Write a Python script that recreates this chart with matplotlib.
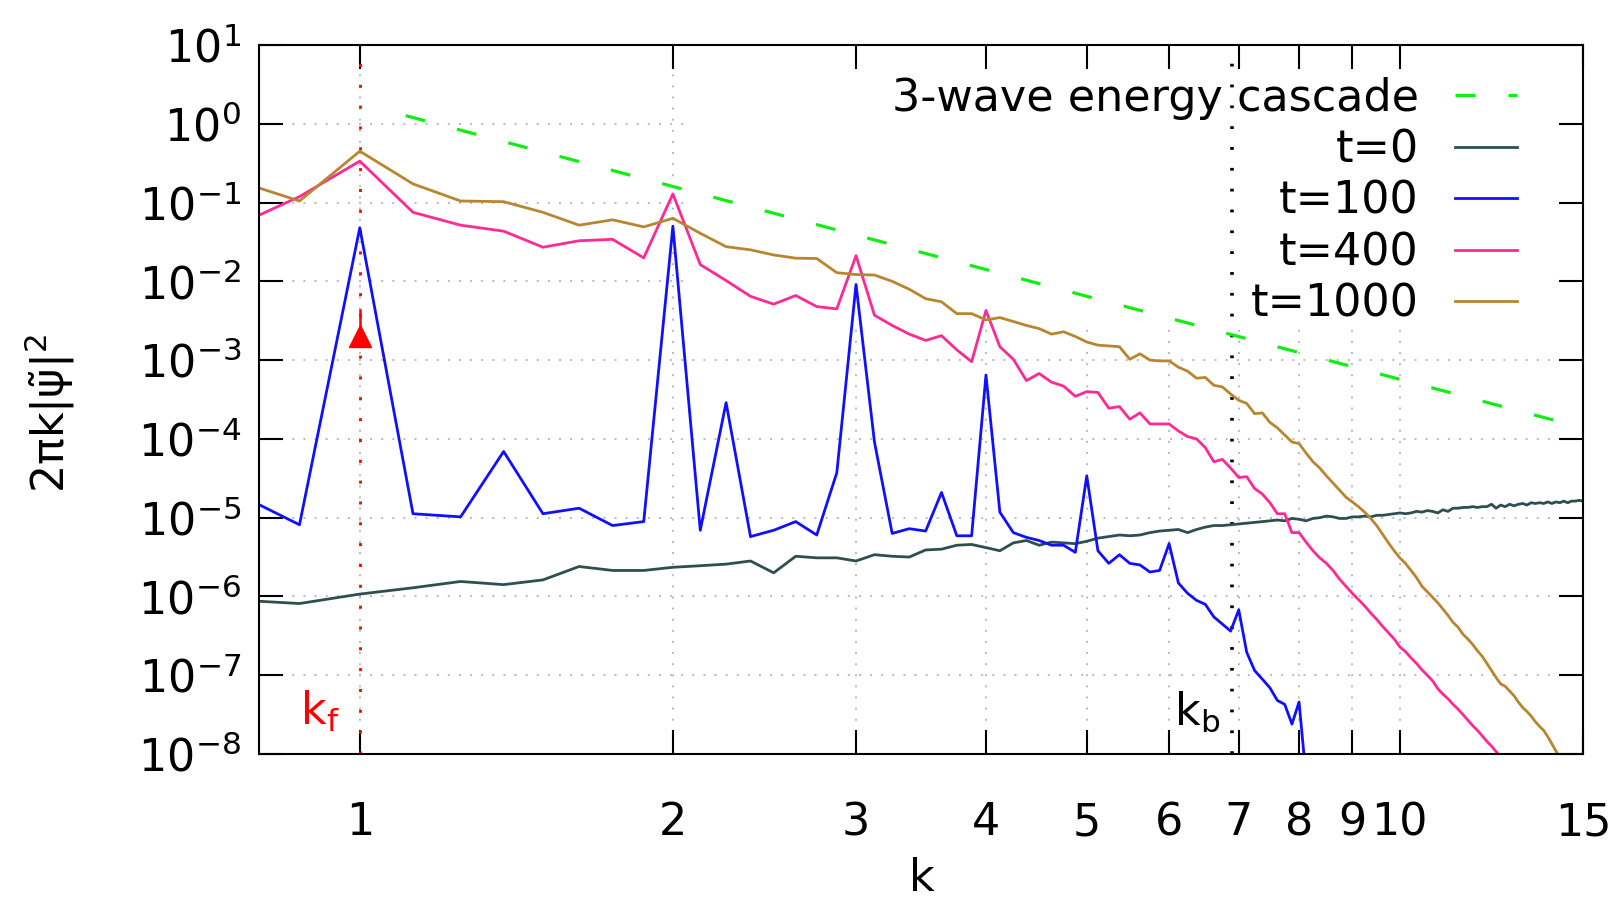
import numpy as np
import matplotlib
matplotlib.use('Agg')
import matplotlib.pyplot as plt
from matplotlib.patches import Rectangle
from matplotlib.ticker import NullLocator, FixedLocator

plt.rcParams['font.family'] = ['DejaVu Sans']
plt.rcParams['mathtext.fontset'] = 'dejavusans'
plt.rcParams['lines.scale_dashes'] = False

# ---------------- data (log10 of 2*pi*k*|psi|^2, sampled every dk) -------------
k_start = 0.75
k_step = 0.125

log_t0 = [
    -6.04, -6.09,
    -5.97, -5.89, -5.81, -5.85, -5.79, -5.62, -5.67, -5.67,
    -5.63, -5.61, -5.59, -5.55, -5.70, -5.49, -5.51, -5.51,
    -5.55, -5.47, -5.49, -5.50, -5.41, -5.40, -5.35, -5.34,
    -5.38, -5.42, -5.32, -5.29, -5.35, -5.31, -5.32, -5.33,
    -5.30, -5.26, -5.24, -5.22, -5.23, -5.22, -5.19, -5.17,
    -5.16, -5.15, -5.19, -5.15, -5.12, -5.10, -5.10, -5.09,
    -5.08, -5.07, -5.06, -5.05, -5.04, -5.03, -5.04, -5.01,
    -5.02, -5.04, -5.01, -5.00, -4.98, -4.99, -5.01, -5.01,
    -4.99, -4.99, -4.98, -4.99, -4.97, -4.97, -4.96, -4.95,
    -4.94, -4.95, -4.94, -4.92, -4.93, -4.91, -4.92, -4.94,
    -4.90, -4.92, -4.88, -4.88, -4.87, -4.87, -4.86, -4.87,
    -4.86, -4.86, -4.83, -4.88, -4.84, -4.86, -4.83, -4.85,
    -4.83, -4.82, -4.84, -4.81, -4.82, -4.81, -4.82, -4.80,
    -4.82, -4.80, -4.81, -4.79, -4.81, -4.79, -4.79, -4.78,
    -4.79,
]

log_t100 = [
    -4.65, -5.09,
    -1.32, -4.95, -4.99, -4.16, -4.95, -4.88, -5.10, -5.05,
    -1.30, -5.16, -3.54, -5.24, -5.16, -5.05, -5.22, -4.43,
    -2.04, -4.04, -5.20, -5.14, -5.17, -4.68, -5.23, -5.23,
    -3.19, -4.93, -5.19, -5.25, -5.29, -5.35, -5.35, -5.44,
    -4.47, -5.42, -5.58, -5.47, -5.58, -5.60, -5.69, -5.67,
    -5.33, -5.83, -5.96, -6.05, -6.10, -6.26, -6.35, -6.44,
    -6.17, -6.71, -6.94, -7.05, -7.16, -7.32, -7.37, -7.62,
    -7.34, -8.30,
]

log_t400 = [
    -1.33, -0.925,
    -0.474, -1.124, -1.287, -1.363, -1.567, -1.485, -1.467, -1.702,
    -0.89, -1.787, -1.99, -2.19, -2.29, -2.18, -2.32, -2.35,
    -1.674, -2.43, -2.56, -2.67, -2.75, -2.69, -2.87, -3.02,
    -2.37, -2.83, -2.99, -3.26, -3.17, -3.28, -3.33, -3.46,
    -3.40, -3.41, -3.61, -3.59, -3.75, -3.67, -3.81, -3.81,
    -3.81, -3.90, -3.97, -4.00, -4.11, -4.29, -4.26, -4.37,
    -4.49, -4.48, -4.63, -4.70, -4.81, -4.95, -4.95, -5.19,
    -5.19, -5.31, -5.42, -5.51, -5.58, -5.67, -5.78, -5.87,
    -5.96, -6.04, -6.12, -6.21, -6.29, -6.38, -6.46, -6.54,
    -6.64, -6.70, -6.78, -6.85, -6.93, -7.00, -7.07, -7.17,
    -7.24, -7.30, -7.37, -7.43, -7.50, -7.57, -7.64, -7.70,
    -7.77, -7.84, -7.90, -7.97, -8.03,
]

log_t1000 = [
    -0.695, -0.98,
    -0.348, -0.763, -0.98, -0.989, -1.124, -1.287, -1.219, -1.309,
    -1.20, -1.39, -1.56, -1.60, -1.665, -1.706, -1.71, -1.89,
    -1.914, -1.92, -2.00, -2.10, -2.22, -2.26, -2.41, -2.41,
    -2.49, -2.46, -2.51, -2.56, -2.60, -2.67, -2.64, -2.70,
    -2.77, -2.81, -2.82, -2.83, -2.99, -2.92, -3.00, -3.01,
    -3.01, -3.09, -3.14, -3.23, -3.22, -3.32, -3.34, -3.43,
    -3.51, -3.55, -3.68, -3.67, -3.79, -3.86, -3.95, -4.04,
    -4.06, -4.18, -4.29, -4.37, -4.47, -4.56, -4.65, -4.74,
    -4.80, -4.86, -4.93, -5.01, -5.10, -5.21, -5.32, -5.42,
    -5.51, -5.58, -5.67, -5.76, -5.87, -5.94, -6.01, -6.08,
    -6.16, -6.24, -6.33, -6.39, -6.48, -6.54, -6.61, -6.69,
    -6.76, -6.85, -6.94, -7.03, -7.11, -7.14, -7.20, -7.26,
    -7.34, -7.41, -7.46, -7.52, -7.59, -7.65, -7.70, -7.78,
    -7.87, -7.96, -8.05,
]

cascade_k = [1.107, 15.0]
cascade_v = [1.27, 1.38e-4]

k_forcing = 1.0
k_break = 6.9
forcing_v = 2.0e-3
forcing_stem = [2.0e-3, 4.3e-3]

x_ticks = [1, 2, 3, 4, 5, 6, 7, 8, 9, 10, 15]
x_ticklabels = ['1', '2', '3', '4', '5', '6', '7', '8', '9', '10', '15']
y_exponents = [1, 0, -1, -2, -3, -4, -5, -6, -7, -8]

series_labels = ['t=0', 't=100', 't=400', 't=1000']
series_colors = ['#2f4f4f', '#1010ff', '#ff2a95', '#b8862e']
cascade_label = '3-wave energy cascade'

# ---------------- figure ----------------
W, H = 1624, 899
fig = plt.figure(figsize=(W / 100, H / 100), dpi=100)
ax_l, ax_r, ax_t, ax_b = 259, 1583, 45, 754
ax = fig.add_axes([ax_l / W, 1 - ax_b / H, (ax_r - ax_l) / W, (ax_b - ax_t) / H])
ax.set_xscale('log')
ax.set_yscale('log')
ax.set_xlim(0.8, 15)
ax.set_ylim(1e-8, 10)

FS = 32

# grid (manual, dotted grey) below a blank key area
grid_kw = dict(color='#b4b4b4', lw=1.3, dashes=(1.4, 6.6), zorder=0.5)
for e in y_exponents[1:-1]:
    ax.axhline(10.0 ** e, **grid_kw)
for xt in x_ticks[:-1]:
    ax.axvline(xt, **grid_kw)
ax.add_patch(Rectangle((0.3255, 0.608), 0.6745, 0.392, transform=ax.transAxes,
                       facecolor='white', edgecolor='none', zorder=1))

# vertical markers
ax.axvline(k_forcing, color='#ff0000', lw=2.0, dashes=(2.2, 12.8), zorder=1.6)
ax.axvline(k_break, color='black', lw=2.6, dashes=(2.0, 13.0), zorder=1.6)

# series
handles = []
(hc,) = ax.plot(cascade_k, cascade_v, color='#11ee11', lw=2.3, dashes=(14.4, 23.8),
                label=cascade_label, zorder=2.2, solid_capstyle='butt', dash_capstyle='butt')
handles.append(hc)
for vals, lab, col in zip([log_t0, log_t100, log_t400, log_t1000], series_labels, series_colors):
    kk = k_start + k_step * np.arange(len(vals))
    (h,) = ax.plot(kk, 10.0 ** np.array(vals), color=col, lw=2.0, label=lab, zorder=2)
    handles.append(h)

# forcing symbol
ax.plot([k_forcing, k_forcing], forcing_stem, color='#ff0000', lw=1.8, zorder=2.1)
ax.plot([k_forcing], [forcing_v], marker='^', ms=16, color='#ff0000', mec='#ff0000', zorder=2.1)

# labels k_f, k_b
ax.text(0.876, 10 ** -7.63, r'$\mathregular{k_f}$', color='#ff0000', fontsize=FS,
        ha='left', va='baseline', zorder=3)
ax.text(6.06, 10 ** -7.63, r'$\mathregular{k_b}$', color='black', fontsize=FS,
        ha='left', va='baseline', zorder=3)

# ticks
ax.xaxis.set_major_locator(FixedLocator(x_ticks))
ax.xaxis.set_minor_locator(NullLocator())
ax.set_xticklabels(x_ticklabels)
ax.yaxis.set_major_locator(FixedLocator([10.0 ** e for e in y_exponents]))
ax.yaxis.set_minor_locator(NullLocator())
ax.set_yticklabels([r'$\mathregular{10^{%d}}$' % e for e in y_exponents])
ax.tick_params(which='major', direction='in', top=True, right=True, length=17,
               width=1.5, color='black', labelsize=FS)
ax.tick_params(axis='x', pad=34)
ax.tick_params(axis='y', pad=13)
for sp in ax.spines.values():
    sp.set_linewidth(1.5)
    sp.set_color('black')
    sp.set_zorder(3)

# axis titles
fig.text(922 / W, 8 / H, 'k', fontsize=FS, ha='center', va='baseline')
fig.text(50 / W, 1 - 413 / H, r'$\mathregular{2\pi k|\tilde{\psi}|^2}$', fontsize=FS,
         rotation=90, ha='center', va='center')

# legend
leg = ax.legend(handles=handles, loc='upper right', bbox_to_anchor=(0.950, 0.955),
                frameon=False, markerfirst=False, fontsize=FS, handlelength=1.40,
                handletextpad=0.81, labelspacing=0.19, borderpad=0.0, borderaxespad=0.0)
leg.set_zorder(5)

fig.savefig('out.png', dpi=100)
